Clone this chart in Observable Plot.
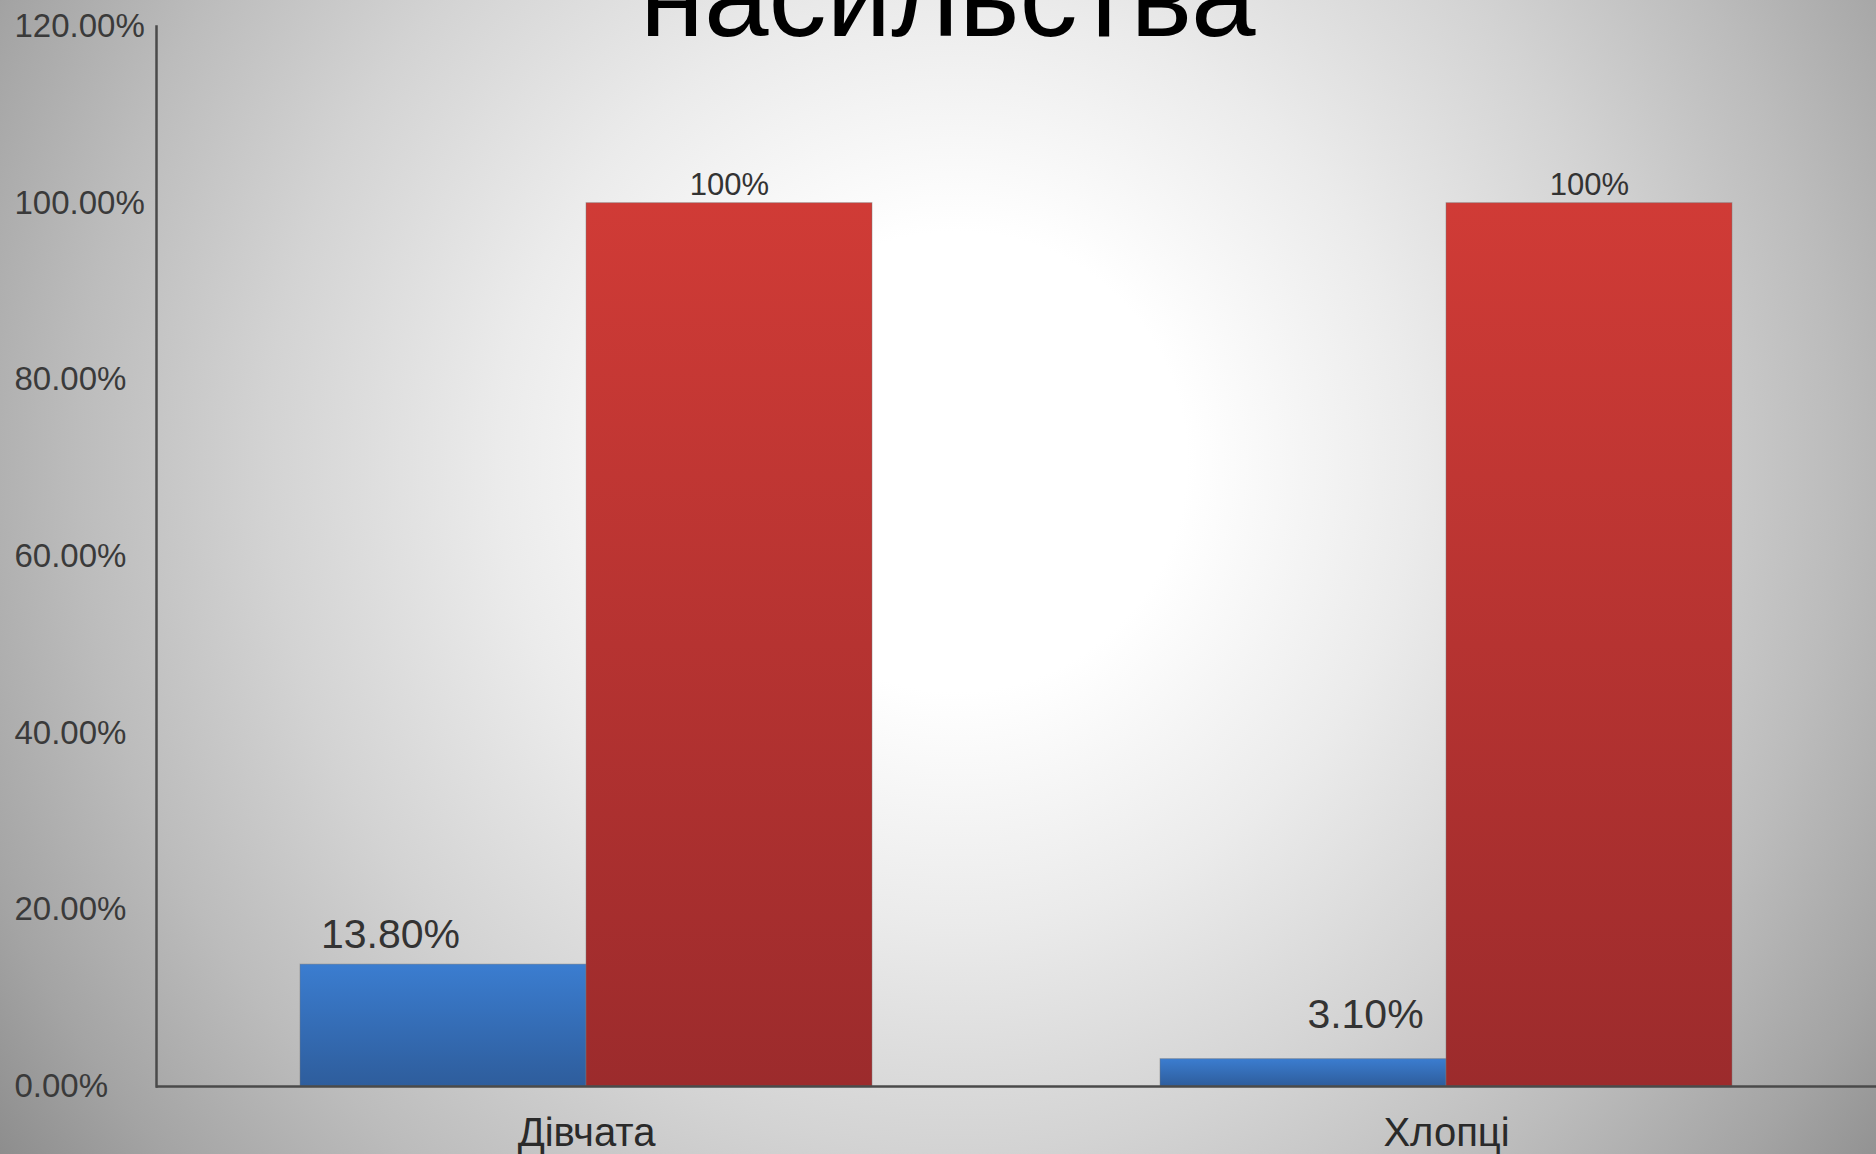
<!DOCTYPE html>
<html>
<head>
<meta charset="utf-8">
<script src="https://cdn.jsdelivr.net/npm/d3@7"></script>
<script src="https://cdn.jsdelivr.net/npm/@observablehq/plot@0.6"></script>
<style>
  html, body { margin: 0; padding: 0; }
  body {
    width: 1876px; height: 1154px; overflow: hidden; position: relative;
    background: radial-gradient(circle at 51% 40%, #ffffff 0px, #ffffff 230px, #ebebeb 460px, #d3d3d3 690px, #bcbcbc 880px, #a4a4a4 1050px, #8a8a8a 1200px, #808080 1300px);
    font-family: "Liberation Sans", Arial, sans-serif;
  }
  #title {
    position: absolute; left: 640px; top: -62px; margin: 0;
    font-size: 116px; line-height: 1; font-weight: normal; color: #000;
    white-space: nowrap; z-index: 2;
  }
  #chart { position: absolute; left: 0; top: 0; }
</style>
</head>
<body>
<div id="title">насильства</div>
<div id="chart"></div>
<script>
// ---- data ----
const categories = ["Дівчата", "Хлопці"];
const seriesNames = ["Ряд 1", "Ряд 2"];
const series1 = [0.138, 0.031];
const series2 = [1.0, 1.0];
const series1Labels = ["13.80%", "3.10%"];
const series2Labels = ["100%", "100%"];
const yTicks = [0, 0.2, 0.4, 0.6, 0.8, 1.0, 1.2];

const rows = [];
categories.forEach((c, i) => {
  rows.push({cat: c, s: seriesNames[0], v: series1[i], label: series1Labels[i]});
  rows.push({cat: c, s: seriesNames[1], v: series2[i], label: series2Labels[i]});
});

const gradients = () => {
  const defs = d3.create("svg:defs");
  const mk = (id, top, bottom) => {
    const g = defs.append("linearGradient").attr("id", id)
      .attr("x1", 0).attr("y1", 0).attr("x2", 0).attr("y2", 1);
    g.append("stop").attr("offset", "0%").attr("stop-color", top);
    g.append("stop").attr("offset", "100%").attr("stop-color", bottom);
  };
  mk("gBlue", "#3b7dd0", "#2e5d9c");
  mk("gRed", "#d03b36", "#9c2b2c");
  return defs.node();
};

const fillFor = (d) => d.s === seriesNames[0] ? "url(#gBlue)" : "url(#gRed)";

const chart = Plot.plot({
  width: 1876,
  height: 1154,
  marginLeft: 155,
  marginRight: 0,
  marginTop: 26,
  marginBottom: 68,
  style: {background: "transparent", fontFamily: "Liberation Sans, Arial, sans-serif", color: "#3a3a3a"},
  fx: {domain: categories, padding: 0, label: null, axis: null},
  x: {domain: seriesNames, paddingInner: 0, paddingOuter: 0.5, axis: null},
  y: {domain: [0, 1.2], axis: null},
  marks: [
    gradients,
    Plot.barY(rows, {fx: "cat", x: "s", y: "v", fill: fillFor, stroke: "#7a7a7a", strokeOpacity: 0.45, strokeWidth: 1}),
    Plot.ruleY([0], {stroke: "#4a4a4a", strokeWidth: 2.5}),
    Plot.frame({anchor: "left", facetAnchor: "left", stroke: "#4a4a4a", strokeWidth: 2.5}),
    Plot.axisY({ticks: yTicks, tickFormat: d3.format(".2%"), tickSize: 0, tickPadding: 0,
      textAnchor: "start", dx: -142, fontSize: 33, fill: "#3a3a3a", label: null}),
    Plot.axisFx({anchor: "bottom", tickSize: 0, tickPadding: 31, fontSize: 40, fill: "#2a2a2a", label: null}),
    Plot.text(rows.filter(d => d.s === seriesNames[1]), {fx: "cat", x: "s", y: "v", text: "label",
      lineAnchor: "bottom", dy: -8, fontSize: 31, fill: "#333"}),
    Plot.text(rows.filter(d => d.s === seriesNames[0] && d.cat === categories[0]), {fx: "cat", x: "s", y: "v", text: "label",
      lineAnchor: "bottom", dy: -17, dx: -53, fontSize: 41, fill: "#333"}),
    Plot.text(rows.filter(d => d.s === seriesNames[0] && d.cat === categories[1]), {fx: "cat", x: "s", y: "v", text: "label",
      lineAnchor: "bottom", dy: -31, dx: 62, fontSize: 41, fill: "#333"})
  ]
});
document.getElementById("chart").appendChild(chart);
</script>
</body>
</html>
